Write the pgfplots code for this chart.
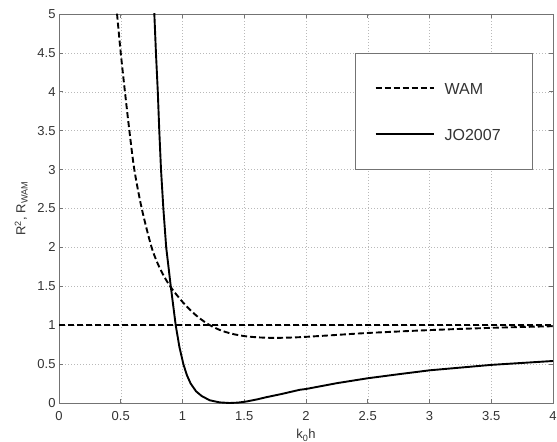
\documentclass[border=0pt]{standalone}
\usepackage{fontspec}
\setmainfont{Liberation Sans}
\usepackage{pgfplots}
\pgfplotsset{compat=1.18}
\definecolor{axgray}{gray}{0.45}
\definecolor{txt}{gray}{0.2}
\begin{document}
\begin{tikzpicture}
\begin{axis}[
  scale only axis, width=494bp, height=389bp,
  xmin=0, xmax=4, ymin=0, ymax=5,
  xtick={0,0.5,...,4}, ytick={0,0.5,...,5},
  /pgf/number format/assume math mode=true,
  ticklabel style={font=\fontsize{13bp}{15bp}\selectfont, text=txt},
  xticklabel style={yshift=-5bp},
  label style={font=\fontsize{13bp}{15bp}\selectfont, text=txt},
  xlabel={k\textsubscript{0}h},
  ylabel={R\textsuperscript{2}, R\textsubscript{WAM}},
  xlabel style={yshift=-2bp},
  ylabel style={yshift=3bp},
  grid=major,
  major grid style={gray!55, line width=0.5bp, dash pattern=on 1bp off 2bp},
  axis line style={axgray, line width=0.7bp},
  tick align=inside, major tick length=4bp,
  tick style={axgray, line width=0.6bp},
  legend cell align=left,
  legend image code/.code={\draw[#1] (0bp,0bp) -- (58bp,0bp);},
  legend style={at={(axis cs:2.4,4.5)}, anchor=north west,
    draw=axgray, fill=white, line width=0.7bp,
    font=\fontsize{16bp}{19bp}\selectfont, text=txt,
    inner xsep=19bp, inner ysep=29bp, row sep=34bp, column sep=10bp,
    nodes={inner sep=0pt, text width=69bp, text height=12bp, text depth=0bp}},
]
\addplot[black, line width=1.9bp, dash pattern=on 6bp off 3bp, smooth, tension=0.5] coordinates {
(0.45,5.35) (0.47,5.0) (0.50,4.5) (0.534,4.0) (0.57,3.5) (0.61,3.0) (0.67,2.5)
(0.75,2.0) (0.82,1.72) (0.90,1.5) (1.0,1.30) (1.1,1.14) (1.2,1.02) (1.3,0.94)
(1.4,0.89) (1.5,0.86) (1.6,0.845) (1.7,0.838) (1.8,0.838) (1.95,0.846)
(2.2,0.87) (2.5,0.90) (3.0,0.937) (3.5,0.966) (4.0,0.987)
};
\addlegendentry{WAM}
\addplot[black, line width=1.9bp] coordinates {
(0.765,5.3) (0.772,5.0) (0.785,4.5) (0.80,4.0) (0.812,3.5) (0.826,3.0)
(0.845,2.5) (0.868,2.0) (0.905,1.5) (0.945,1.0) (0.975,0.72) (1.007,0.5)
(1.035,0.36) (1.066,0.25) (1.11,0.15) (1.155,0.09) (1.22,0.035) (1.30,0.008)
(1.38,0.0) (1.45,0.005) (1.52,0.02) (1.6,0.045) (1.68,0.075) (1.8,0.115)
(1.95,0.17) (2.0,0.18) (2.25,0.255) (2.5,0.318) (2.75,0.37) (3.0,0.42)
(3.25,0.455) (3.5,0.49) (3.75,0.515) (4.0,0.54)
};
\addlegendentry{JO2007}
\addplot[black, line width=1.9bp, dash pattern=on 6bp off 3bp, forget plot] coordinates {(0,1) (4,1)};
\end{axis}
\pgfresetboundingbox
\path[use as bounding box] ([shift={(-59bp,-39bp)}]current axis.south west) rectangle ([shift={(4bp,14bp)}]current axis.north east);
\end{tikzpicture}
\end{document}
